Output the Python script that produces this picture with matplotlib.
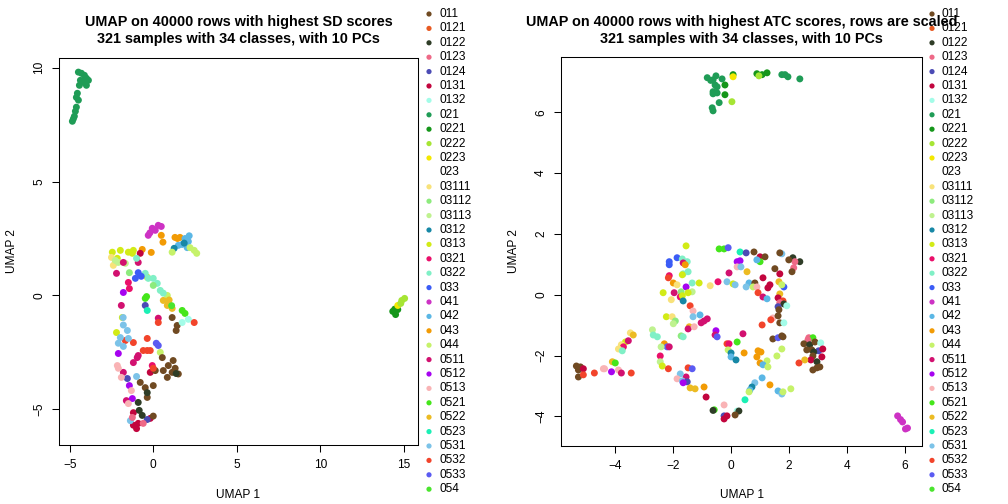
import numpy as np
import matplotlib
matplotlib.use('Agg')
import matplotlib.pyplot as plt

plt.rcParams['font.family'] = ['Liberation Sans', 'DejaVu Sans']

# classes and their colours (legend order)
classes = ['011', '0121', '0122', '0123', '0124', '0131', '0132', '021', '0221', '0222',
           '0223', '023', '03111', '03112', '03113', '0312', '0313', '0321', '0322', '033',
           '041', '042', '043', '044', '0511', '0512', '0513', '0521', '0522', '0523',
           '0531', '0532', '0533', '054']
class_colors = ['#704A22', '#E85A22', '#2F3D27', '#EE6987', '#4B4BB5', '#C2053E', '#A3FCE8',
                '#1F9C56', '#15961A', '#A6E534', '#F4E800', '#FFFFFF', '#F8E27A', '#8DEB7D',
                '#BFF28F', '#1788A6', '#D2EB16', '#EA0F6A', '#80F0C6', '#3B5CF6', '#CD32C4',
                '#5BB7E5', '#F29B05', '#C6F26A', '#D21170', '#A603F0', '#F9B3B5', '#45E61B',
                '#ECBB23', '#1BF0B5', '#7CC3E8', '#F2442B', '#5B5BF2', '#4AE52E']

# UMAP on SD rows: (class, UMAP1, UMAP2)
sd_points = [
    ('021', -4.48, 9.81), ('021', -4.30, 9.76), ('021', -4.12, 9.67), ('021', -4.00, 9.54),
    ('021', -4.36, 9.45), ('021', -4.18, 9.37), ('021', -4.00, 9.23), ('021', -4.42, 9.23),
    ('021', -3.88, 9.45), ('021', -4.54, 8.88), ('021', -4.60, 8.70), ('021', -4.48, 8.58),
    ('021', -4.60, 8.27), ('021', -4.66, 8.09), ('021', -4.72, 7.87), ('021', -4.84, 7.65),
    ('021', -4.78, 7.76),
    ('0221', 14.33, -0.70), ('0221', 14.50, -0.84), ('0221', 14.63, -0.62), ('0221', 14.45, -0.60),
    ('0223', 14.63, -0.44),
    ('0222', 14.87, -0.22), ('0222', 15.04, -0.13), ('0222', 14.81, -0.35),
    ('041', -0.30, 2.64), ('041', -0.06, 2.95), ('041', 0.30, 3.08), ('041', 0.48, 3.03),
    ('041', 0.12, 2.86), ('041', -0.20, 2.75),
    ('043', 0.48, 2.64), ('043', 0.58, 2.34), ('043', 1.30, 2.55), ('043', 1.60, 2.55),
    ('043', -0.12, 1.89), ('043', -0.66, 2.02), ('043', 1.45, 2.50),
    ('042', 1.90, 2.50), ('042', 2.10, 2.37), ('042', 1.73, 2.24), ('042', 2.03, 2.10),
    ('042', 1.50, 2.20), ('042', 2.15, 2.62),
    ('0312', 1.25, 2.07), ('0312', 1.85, 2.30),
    ('044', 2.20, 2.10), ('044', 2.45, 1.98), ('044', 2.60, 1.85), ('044', 1.13, 1.90),
    ('044', 0.84, 0.00), ('044', 0.42, -2.50),
    ('0313', -2.45, 1.90), ('0313', -1.97, 1.98), ('0313', -1.49, 1.90), ('0313', -1.19, 1.98),
    ('0313', -2.15, 1.63), ('0313', -1.25, 1.85), ('0313', -0.36, 0.80), ('0313', -1.85, -0.97),
    ('0313', -2.20, -1.63),
    ('03111', -2.50, 1.67), ('03111', -2.39, 1.32), ('03111', -2.27, 1.45),
    ('03113', -2.27, 1.54), ('03113', -2.09, 1.45), ('03113', -1.67, 1.41),
    ('0511', -1.79, 1.45), ('0511', -0.90, 1.45), ('0511', -2.20, 0.97), ('0511', -1.91, -0.44),
    ('0511', 0.30, -1.00), ('0511', -0.96, -2.73), ('0511', -0.90, -2.64), ('0511', -1.19, -2.95),
    ('0511', -1.79, -3.38), ('0511', -1.61, -4.62),
    ('0131', -0.78, 1.85), ('0131', -0.18, -3.38), ('0131', -1.19, -5.15), ('0131', -0.90, -5.62),
    ('0131', -1.19, -5.70), ('0131', -1.00, -5.85), ('0131', -0.18, -5.40),
    ('0322', -1.00, 1.63), ('0322', -0.48, 0.97), ('0322', 0.00, 0.75), ('0322', 0.24, 0.53),
    ('0322', 0.42, 0.22), ('0322', 0.60, 0.10), ('0322', -0.30, 0.75),
    ('033', -0.90, 1.00), ('033', -1.07, 0.75), ('033', -0.72, 0.84),
    ('03112', -1.43, 1.00), ('03112', 0.00, 0.44),
    ('0321', -1.49, 0.57), ('0321', -1.43, 0.30), ('0321', -0.06, -3.08),
    ('0512', -1.79, 0.13), ('0512', -2.09, -2.55), ('0512', -1.43, -3.96), ('0512', -1.25, -4.53),
    ('0522', 0.84, -0.44), ('0522', 0.90, -0.35), ('0522', 1.13, -0.57), ('0522', 0.60, -0.22),
    ('0522', 0.95, -0.20),
    ('0521', -0.48, -0.13), ('0521', 1.73, -0.66), ('0521', 1.90, -0.79), ('0521', -0.40, -0.05),
    ('0124', -0.48, -0.44), ('0124', -0.36, -5.45), ('0124', -1.55, -3.65),
    ('0523', -0.36, -0.66),
    ('054', 1.10, -0.45),
    ('011', 1.13, -0.97), ('011', 1.43, -1.32), ('011', 1.37, -1.54), ('011', 0.90, -3.08),
    ('011', 1.13, -3.38), ('011', 1.31, -3.20), ('011', 0.60, -3.30), ('011', 0.84, -3.60),
    ('011', 1.19, -2.86), ('011', 1.50, -3.45), ('011', 0.12, -3.30), ('011', -0.78, -3.82),
    ('011', -0.48, -4.05), ('011', 0.00, -3.96), ('011', -0.36, -4.48), ('011', 0.54, -2.73),
    ('011', 0.00, -5.30),
    ('0132', 1.73, -1.19), ('0132', 2.10, -1.05),
    ('0532', 2.45, -1.19), ('0532', 0.30, -1.19), ('0532', -0.36, -2.42), ('0532', -1.19, -2.07),
    ('0532', 0.00, -3.20), ('0532', -0.60, -2.42), ('0532', -0.18, -2.42), ('0532', -0.36, -1.89),
    ('0532', -1.67, -1.98),
    ('0531', -1.80, -0.97), ('0531', -1.79, -1.30), ('0531', -1.55, -1.54), ('0531', -1.49, -1.89),
    ('0531', -2.09, -2.10), ('0531', -1.79, -2.24), ('0531', -1.00, -3.56), ('0531', -1.37, -5.50),
    ('0531', -1.97, -1.85),
    ('0513', -2.15, -3.08), ('0513', -2.09, -3.20), ('0513', -1.91, -3.60), ('0513', -1.31, -4.18),
    ('0513', -1.49, -4.75),
    ('0533', 0.18, -2.10), ('0533', 0.30, -2.20),
    ('0122', 1.37, -3.43), ('0122', -0.90, -4.70), ('0122', -0.84, -5.05), ('0122', -0.36, -4.27),
    ('0122', -0.66, -5.27),
    ('0123', -1.25, -5.36), ('0123', -0.60, -5.62),
]

# UMAP on ATC rows (scaled): (class, UMAP1, UMAP2)
atc_points = [
    ('021', -0.82, 7.14), ('021', -0.62, 7.07), ('021', -0.52, 7.20), ('021', -0.31, 7.10),
    ('021', -0.55, 6.90), ('021', -0.48, 6.84), ('021', -0.62, 6.68), ('021', -0.48, 6.64),
    ('021', -0.62, 6.61), ('021', -0.41, 6.32), ('021', -0.65, 6.15), ('021', -0.62, 6.05),
    ('021', 1.86, 7.24), ('021', 1.96, 7.17), ('021', 1.75, 7.24), ('021', 2.37, 7.10),
    ('021', -0.70, 7.05),
    ('0221', -0.21, 6.90), ('0221', -0.21, 6.58), ('0221', 0.89, 7.27), ('0221', 1.07, 7.24),
    ('0221', 1.24, 7.30), ('0221', 0.07, 7.24),
    ('0223', 0.07, 7.17),
    ('0222', 0.96, 7.20), ('0222', 0.03, 6.35),
    ('0313', -1.55, 1.61), ('0521', -0.41, 1.51), ('0521', -0.24, 1.51), ('0533', -0.10, 1.55),
    ('0523', 0.31, 1.41), ('0124', 0.52, 1.38), ('011', 0.79, 1.41), ('0131', 1.00, 1.25),
    ('011', 1.17, 1.25), ('0521', 1.00, 1.09), ('042', 0.89, 1.15), ('0512', 0.21, 1.09),
    ('0512', 0.31, 1.12), ('0531', 1.75, 1.35), ('011', 1.68, 1.38), ('0122', 2.13, 1.22),
    ('0122', 2.37, 1.09), ('0123', 2.20, 1.09), ('0123', 2.16, 0.89), ('011', 1.99, 1.15),
    ('011', 2.10, 0.76), ('033', -1.86, 1.22), ('0322', -1.68, 1.18), ('0322', -1.51, 1.09),
    ('0511', -1.65, 1.05), ('043', -1.58, 0.99), ('033', -2.13, 0.99), ('033', -2.13, 1.09),
    ('0513', 0.21, 0.92), ('0531', 0.34, 0.92), ('0522', 0.55, 0.76), ('011', 1.51, 0.86),
    ('0131', 1.68, 0.69), ('0511', -0.07, 0.72), ('0322', -1.48, 0.76), ('0322', -1.65, 0.69),
    ('0313', -1.68, 0.66), ('0321', -2.13, 0.63), ('0532', -2.16, 0.56), ('0322', -1.34, 0.39),
    ('043', -1.99, 0.39), ('03111', -1.86, 0.33), ('0512', -1.55, 0.26), ('0313', -1.10, 0.39),
    ('03111', -0.72, 0.30), ('0321', -0.45, 0.43), ('0531', -0.14, 0.43), ('0313', 0.07, 0.36),
    ('0531', 0.14, 0.33), ('042', 0.62, 0.39), ('0531', 0.52, 0.26), ('011', 0.82, 0.39),
    ('0131', 1.10, 0.56), ('0131', 1.34, 0.33), ('0131', 1.27, 0.23), ('044', 0.76, 0.26),
    ('0513', 0.89, 0.26), ('0522', 1.65, 0.43), ('033', 1.82, 0.26), ('044', 1.75, 0.33),
    ('0313', -2.34, 0.07), ('0511', -1.96, 0.07), ('03112', -1.72, 0.10), ('03113', -1.34, 0.10),
    ('0313', -1.48, 0.07), ('0532', 0.93, 0.07), ('0511', 1.10, -0.07), ('042', 1.24, -0.13),
    ('0522', 1.68, 0.03), ('03111', -2.06, -0.16), ('0321', -1.75, -0.07), ('0313', -1.68, -0.03),
    ('0312', -1.65, -0.20), ('0131', 1.62, -0.10), ('0532', 1.79, -0.20), ('0123', 1.68, -0.26),
    ('0122', 1.82, -0.30), ('0132', 1.92, -0.36), ('0124', 1.62, -0.39), ('011', 1.65, -0.49),
    ('0532', -1.41, -0.36), ('0513', -1.31, -0.53), ('042', -1.07, -0.66), ('0531', -1.31, -0.72),
    ('0313', -2.23, -0.72), ('03111', -2.03, -0.72), ('03112', -1.92, -0.86), ('03113', -1.99, -0.95),
    ('0511', -0.82, -0.79), ('0511', -0.93, -0.86), ('0511', -1.03, -0.92), ('0513', 1.44, -0.76),
    ('0532', 1.37, -0.82), ('011', 1.62, -0.69), ('011', 1.68, -0.92), ('0132', 1.82, -0.92),
    ('0532', 1.07, -0.99), ('0522', -1.44, -1.05), ('0511', -1.48, -1.12), ('0513', -1.27, -1.05),
    ('03111', -3.47, -1.25), ('0522', -3.37, -1.32), ('03113', -2.71, -1.15), ('0322', -2.68, -1.32),
    ('0322', -2.54, -1.38), ('03112', -1.72, -1.35), ('0322', -1.65, -1.38), ('0512', -0.52, -1.18),
    ('0511', -0.55, -1.32), ('0533', -0.48, -1.38), ('0511', 0.41, -1.28), ('011', 1.44, -1.45),
    ('0533', 1.62, -1.41), ('011', 1.79, -1.38), ('011', 1.75, -1.35), ('0123', 2.68, -1.41),
    ('0521', 2.82, -1.41),
    ('0313', -3.64, -1.55), ('0511', -3.54, -1.51), ('03111', -3.78, -1.64), ('0321', -3.71, -1.71),
    ('03111', -3.88, -1.78), ('0322', -3.75, -1.84), ('043', -2.30, -1.61), ('0533', -2.20, -1.71),
    ('0511', -2.13, -1.71), ('03113', -2.41, -1.71), ('0321', -2.44, -2.01), ('03113', -2.44, -2.20),
    ('0313', -2.37, -2.34), ('0532', -2.16, -2.43),
    ('0522', -4.09, -2.20), ('0521', -3.99, -2.24), ('0513', -4.36, -2.43), ('0512', -4.12, -2.53),
    ('0513', -3.88, -2.47), ('0511', -3.78, -2.57), ('0532', -3.44, -2.57),
    ('0532', -0.14, -1.61), ('0321', -0.07, -1.61), ('0521', 0.21, -1.55), ('044', -0.10, -1.81),
    ('0312', 0.00, -1.91), ('042', 0.00, -2.04), ('0312', 0.17, -2.14), ('043', 0.45, -1.91),
    ('043', 0.93, -1.84), ('043', 1.03, -1.88), ('044', 1.75, -1.78), ('043', 0.89, -2.04),
    ('044', 1.58, -2.01), ('043', 1.00, -2.24), ('044', 1.24, -2.17), ('042', 1.10, -2.30),
    ('044', 1.27, -2.37),
    ('0532', -1.48, -2.40), ('0533', -1.34, -2.43), ('0511', -1.55, -2.70), ('0531', -1.75, -2.60),
    ('0513', -1.86, -2.76), ('0531', -1.68, -2.83), ('0124', -1.51, -2.86), ('0512', -1.65, -2.89),
    ('0522', -1.41, -3.06), ('0522', -1.24, -3.09), ('043', -0.93, -3.03), ('0131', -0.86, -3.36),
    ('042', 1.07, -2.73), ('0531', 0.82, -2.89), ('0312', 0.72, -3.03), ('042', 0.65, -3.13),
    ('044', 0.62, -3.19), ('043', 1.34, -2.96), ('042', 1.62, -3.16), ('0531', 1.75, -3.26),
    ('044', 1.79, -3.19), ('044', 2.06, -3.09),
    ('0523', 0.48, -3.45), ('0513', -0.24, -3.62), ('0521', -0.58, -3.78), ('0122', -0.62, -3.80),
    ('0132', 0.21, -3.82), ('0122', 0.27, -3.82), ('011', 0.14, -3.95), ('0124', -0.24, -3.98),
    ('0131', -0.14, -3.98), ('0131', -0.24, -4.08),
    ('0123', 2.65, -1.48), ('011', 2.51, -1.61), ('0122', 2.71, -1.64), ('011', 2.89, -1.55),
    ('0132', 3.09, -1.58), ('0124', 3.02, -1.84), ('0131', 3.16, -1.78), ('011', 2.61, -1.81),
    ('011', 2.78, -1.81), ('0122', 2.85, -1.88), ('011', 2.82, -2.01), ('0131', 2.75, -2.14),
    ('0131', 3.13, -2.04), ('0522', 2.54, -2.14), ('0532', 2.34, -2.24), ('0122', 2.96, -2.20),
    ('011', 3.06, -2.37), ('011', 2.82, -2.47), ('011', 2.96, -2.40),
    ('011', -5.33, -2.34), ('011', -5.26, -2.47), ('011', -5.19, -2.37), ('011', -5.26, -2.70),
    ('0131', -5.09, -2.43), ('0532', -5.09, -2.63), ('0532', -4.71, -2.57), ('0513', -4.40, -2.43),
    ('041', 5.74, -3.98), ('041', 5.84, -4.10), ('041', 5.91, -4.18), ('041', 6.01, -4.41),
    ('041', 6.08, -4.38),
]

color_of = dict(zip(classes, class_colors))

fig = plt.figure(figsize=(10.08, 5.04), dpi=100)
W, H = 1008, 504

panels = [
    dict(points=sd_points, box=(59, 58, 418, 445), xlim=(-5.64, 15.84), ylim=(-6.57, 10.43),
         xticks=[-5, 0, 5, 10, 15], yticks=[-5, 0, 5, 10],
         title=['UMAP on 40000 rows with highest SD scores',
                '321 samples with 34 classes, with 10 PCs'],
         legend_x=429),
    dict(points=atc_points, box=(561, 57, 922, 446), xlim=(-5.86, 6.58), ylim=(-4.97, 7.82),
         xticks=[-4, -2, 0, 2, 4, 6], yticks=[-4, -2, 0, 2, 4, 6],
         title=['UMAP on 40000 rows with highest ATC scores, rows are scaled',
                '321 samples with 34 classes, with 10 PCs'],
         legend_x=932),
]

for p in panels:
    x0, y0, x1, y1 = p['box']
    ax = fig.add_axes([x0 / W, 1 - y1 / H, (x1 - x0) / W, (y1 - y0) / H])
    cls, xs, ys = zip(*p['points'])
    ax.scatter(xs, ys, c=[color_of[c] for c in cls], s=25, linewidths=0)
    ax.set_xlim(*p['xlim'])
    ax.set_ylim(*p['ylim'])
    ax.set_xticks(p['xticks'])
    ax.set_yticks(p['yticks'])
    ax.tick_params(direction='out', length=5, width=0.75, labelsize=8.6, pad=5)
    for lab in ax.get_yticklabels():
        lab.set_rotation(90)
        lab.set_va('center')
    for s in ax.spines.values():
        s.set_linewidth(0.75)
    cx = (x0 + x1) / 2 / W
    fig.text(cx, 1 - 22 / H, p['title'][0], ha='center', va='center',
             fontsize=10.4, fontweight='bold')
    fig.text(cx, 1 - 39 / H, p['title'][1], ha='center', va='center',
             fontsize=10.4, fontweight='bold')
    fig.text(cx, 1 - 495 / H, 'UMAP 1', ha='center', va='center', fontsize=8.6)
    fig.text((x0 - 47) / W, 1 - 251 / H, 'UMAP 2', ha='center', va='center',
             rotation=90, fontsize=8.6)

# legends in pixel space
lax = fig.add_axes([0, 0, 1, 1])
lax.set_xlim(0, W)
lax.set_ylim(H, 0)
lax.axis('off')
rows = 14 + 14.4 * np.arange(len(classes))
for p in panels:
    lx = p['legend_x']
    lax.scatter(np.full(len(classes), lx), rows, c=class_colors, s=14, linewidths=0)
    for yy, name in zip(rows, classes):
        lax.text(lx + 10, yy, name, ha='left', va='center', fontsize=8.6)

fig.savefig('out.png', dpi=100)
